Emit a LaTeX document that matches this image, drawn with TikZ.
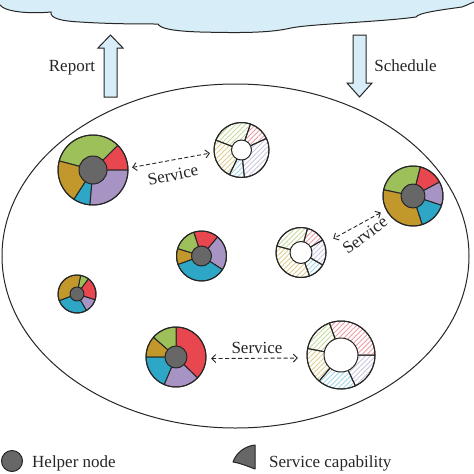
\documentclass[tikz,border=0pt]{standalone}
\usepackage{fontspec}
\setmainfont{Liberation Serif}
\usetikzlibrary{arrows.meta,patterns.meta}
\definecolor{cgreen}{HTML}{9DC05B}
\definecolor{cred}{HTML}{E8474F}
\definecolor{cpurple}{HTML}{A894C4}
\definecolor{ccyan}{HTML}{2EA6C6}
\definecolor{cbrown}{HTML}{C2972C}
\definecolor{ccore}{HTML}{676767}
\definecolor{cline}{HTML}{262626}
\definecolor{hgreen}{HTML}{C4DA9C}
\definecolor{hred}{HTML}{EE9CA4}
\definecolor{hpurple}{HTML}{CFC6E1}
\definecolor{hcyan}{HTML}{A2D6E7}
\definecolor{hbrown}{HTML}{DECD8E}
\definecolor{skyfill}{HTML}{D7EEF8}
\tikzset{
  sectorline/.style={draw=cline, line width=1pt, line join=round},
  hub/.style={circle, inner sep=0pt, draw=none},
  lbl/.style={font=\fontsize{17}{20}\selectfont, text=cline, inner sep=0pt},
  svc/.style={dash pattern=on 4pt off 2.5pt, line width=0.9pt, draw=cline,
    {Straight Barb[length=4pt,width=8pt]}-{Straight Barb[length=4pt,width=8pt]}},
  blockarrow/.style={fill=skyfill, draw=cline, line width=1pt, line join=miter},
}
\newcommand{\donut}[4]{%
  \foreach \aa/\bb/\col in {#4} {
    \filldraw[fill=\col, sectorline] (#1.center) -- ++({-\aa}:#2) arc[start angle={-\aa}, end angle={-\bb}, radius=#2] -- cycle;
  }
  \draw[sectorline] (#1.center) circle[radius=#2];
  \filldraw[fill=ccore, sectorline] (#1.center) circle[radius=#3];
}
\newcommand{\hdonut}[4]{%
  \foreach \aa/\bb/\col in {#4} {
    \draw[sectorline, pattern={Lines[angle=45,distance=3.5pt,line width=0.9pt]}, pattern color=\col] (#1.center) -- ++({-\aa}:#2) arc[start angle={-\aa}, end angle={-\bb}, radius=#2] -- cycle;
  }
  \draw[sectorline] (#1.center) circle[radius=#2];
  \filldraw[fill=white, sectorline] (#1.center) circle[radius=#3];
}
\begin{document}
\begin{tikzpicture}[x=1pt,y=-1pt]
\useasboundingbox (0,0) rectangle (474,474);
\clip (0,0) rectangle (474,474);
\fill[white] (0,0) rectangle (474,474);
% cloud
\filldraw[fill=skyfill, draw=cline, line width=1pt]
  (-5,-5) -- (-5,4) -- (0,5) .. controls (5,12) and (30,14) .. (51,12)
  .. controls (50,18) and (60,21) .. (80,22)
  .. controls (110,24) and (140,24) .. (158,24)
  .. controls (160,28) and (170,31) .. (200,32)
  .. controls (240,33) and (270,33) .. (291,28)
  .. controls (310,24) and (380,22) .. (416,17)
  .. controls (418,13) and (440,10) .. (462,7)
  .. controls (468,5) and (472,2) .. (480,0) -- (480,-5) -- cycle;
% block arrows
\filldraw[blockarrow] (104,97) -- (104,48) -- (98,48) -- (110.5,35) -- (123,48) -- (117,48) -- (117,97) -- cycle;
\filldraw[blockarrow] (353,35) -- (366,35) -- (366,83) -- (372,83) -- (359.5,97) -- (347,83) -- (353,83) -- cycle;
\node[lbl, anchor=base] (rep) at (72,71) {Report};
\node[lbl, anchor=base] (sch) at (405.5,71) {Schedule};
% ellipse
\draw[draw=cline, line width=1pt] (235.5,256) ellipse[x radius=233.5, y radius=172];
% helper node hubs
\node[hub, minimum size=70pt] (A) at (93,170) {};
\node[hub, minimum size=55pt] (B) at (241.5,150) {};
\node[hub, minimum size=60pt] (C) at (413,196) {};
\node[hub, minimum size=50pt] (D) at (301,252.5) {};
\node[hub, minimum size=50pt] (E) at (201.5,256) {};
\node[hub, minimum size=38pt] (F) at (77,294) {};
\node[hub, minimum size=60pt] (G) at (176,357) {};
\node[hub, minimum size=68pt] (H) at (341,355) {};
\donut{A}{35}{14}{0/45/cred, 45/165/cgreen, 165/237/cbrown, 237/265/ccyan, 265/360/cpurple}
\hdonut{B}{27.5}{10}{-84/25/hpurple, 25/71/hred, 71/159/hgreen, 159/244/hbrown, 244/276/hcyan}
\donut{C}{30}{12}{-18/28/cpurple, 28/76/cred, 76/168/cgreen, 168/288/cbrown, 288/342/ccyan}
\hdonut{D}{25}{11}{-30/30/hpurple, 30/75/hred, 75/165/hgreen, 165/290/hbrown, 290/330/hcyan}
\donut{E}{25}{10}{-33/50/cpurple, 50/108/cred, 108/163/cgreen, 163/200/cbrown, 200/327/ccyan}
\donut{F}{19}{7}{-18/53/cred, 53/79/cgreen, 79/201/cbrown, 201/300/ccyan, 300/342/cpurple}
\donut{G}{30}{11}{-44/90/cred, 90/139/cgreen, 139/180/cbrown, 180/247/ccyan, 247/316/cpurple}
\hdonut{H}{34}{17}{-65/0/hpurple, 0/110/hred, 110/169/hgreen, 169/230/hbrown, 230/295/hcyan}
% service links
\draw[svc, shorten <=4pt, shorten >=4pt] (A.3) -- (B.185);
\node[lbl, rotate=12] (s1) at (173,175) {Service};
\draw[svc, shorten <=6pt, shorten >=10pt] (C.207) -- (D.21);
\node[lbl, rotate=37] (s2) at (365,235) {Service};
\draw[svc, shorten <=5pt, shorten >=9pt] (G.-3) -- (H.185);
\node[lbl] (s3) at (257,348) {Service};
% legend
\node[circle, fill=ccore, draw=cline, line width=1pt, minimum size=21pt, inner sep=0pt] (hn) at (12,461) {};
\node[lbl, anchor=base west] (hnt) at (32,467) {Helper node};
\filldraw[fill=ccore, sectorline] (255,445) -- (255,469) .. controls (247,466) and (240,463) .. (233,462) .. controls (236,453) and (245,446) .. (255,445) -- cycle;
\node[lbl, anchor=base west] (sct) at (269,467) {Service capability};
\end{tikzpicture}
\end{document}
